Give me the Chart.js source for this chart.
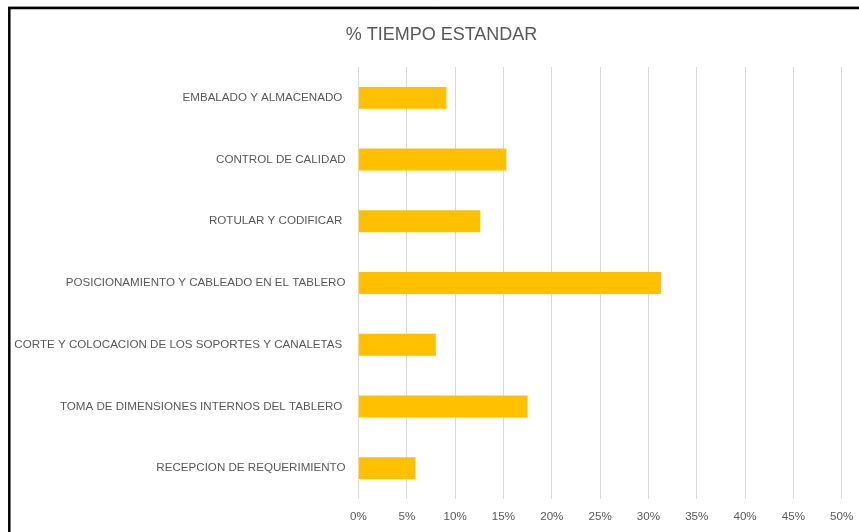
<!DOCTYPE html>
<html>
<head>
<meta charset="utf-8">
<script src="https://cdn.jsdelivr.net/npm/chart.js@4/dist/chart.umd.min.js"></script>
<style>
  html, body { margin: 0; padding: 0; background: #ffffff; }
  #wrap { position: relative; width: 859px; height: 532px; }
  canvas { display: block; }
</style>
</head>
<body>
<div id="wrap"><canvas id="c" width="859" height="532"></canvas></div>
<script>
const chartTitle = "% TIEMPO ESTANDAR";
const categories = [
  "EMBALADO Y ALMACENADO ",
  "CONTROL DE CALIDAD",
  "ROTULAR Y CODIFICAR ",
  "POSICIONAMIENTO Y CABLEADO EN EL TABLERO",
  "CORTE Y COLOCACION DE LOS SOPORTES Y CANALETAS ",
  "TOMA DE DIMENSIONES INTERNOS DEL TABLERO ",
  "RECEPCION DE REQUERIMIENTO"
];
const values = [0.091, 0.153, 0.126, 0.313, 0.080, 0.175, 0.059];
const xTickStep = 0.05;
const xMax = 0.50;

const FONT = "'Liberation Sans', Arial, sans-serif";

const framePlugin = {
  id: 'frame',
  afterDraw(chart) {
    const ctx = chart.ctx;
    ctx.save();
    // title
    ctx.fillStyle = '#595959';
    ctx.font = "18px " + FONT;
    ctx.textAlign = 'center';
    ctx.textBaseline = 'middle';
    ctx.fillText(chartTitle, 441.5, 35);
    // frame
    ctx.strokeStyle = '#d0d0d0';
    ctx.lineWidth = 1;
    ctx.beginPath();
    ctx.moveTo(8, 6.5); ctx.lineTo(859, 6.5);
    ctx.stroke();
    ctx.strokeStyle = '#000000';
    ctx.lineWidth = 2.5;
    ctx.beginPath();
    ctx.moveTo(9.3, 532); ctx.lineTo(9.3, 8); ctx.lineTo(859, 8);
    ctx.stroke();
    ctx.restore();
  }
};

new Chart(document.getElementById('c'), {
  type: 'bar',
  data: {
    labels: categories,
    datasets: [{
      data: values,
      backgroundColor: '#FFC000',
      borderWidth: 0,
      barPercentage: 0.355,
      categoryPercentage: 1.0
    }]
  },
  options: {
    indexAxis: 'y',
    responsive: false,
    animation: false,
    devicePixelRatio: 1,
    layout: { padding: { left: 0, right: 17.3, top: 67, bottom: 0 } },
    plugins: {
      legend: { display: false },
      tooltip: { enabled: false },
      title: { display: false }
    },
    scales: {
      x: {
        min: 0,
        max: xMax,
        grid: { color: '#d9d9d9', lineWidth: 1, drawTicks: false },
        border: { display: false },
        ticks: {
          stepSize: xTickStep,
          padding: 11,
          color: '#595959',
          font: { family: FONT, size: 11.6 },
          callback: v => Math.round(v * 100) + '%'
        },
        afterFit(scale) {
          scale.height = 33;
          scale.paddingLeft = 0;
          scale.paddingRight = 0;
        }
      },
      y: {
        grid: { display: false, drawTicks: false },
        border: { display: false },
        ticks: {
          padding: 13,
          color: '#595959',
          font: { family: FONT, size: 11.6 },
          autoSkip: false
        },
        afterFit(scale) { scale.width = 358.5; }
      }
    }
  },
  plugins: [framePlugin]
});
</script>
</body>
</html>
